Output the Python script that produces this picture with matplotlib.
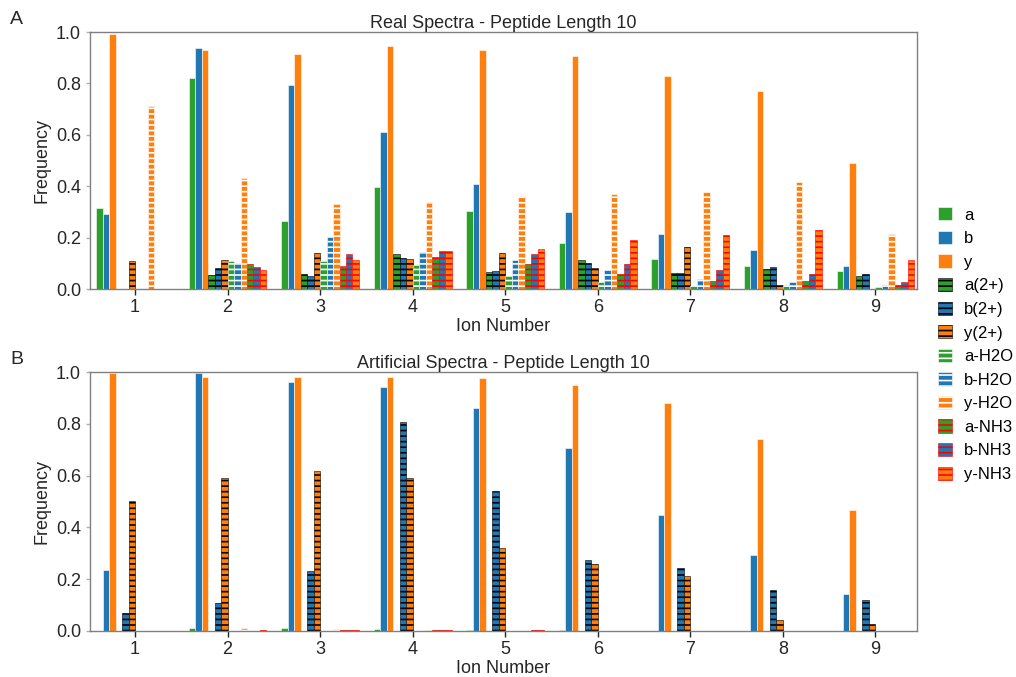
import numpy as np
import matplotlib
matplotlib.use("Agg")
import matplotlib.pyplot as plt

plt.rcParams['font.family'] = ['Liberation Sans', 'DejaVu Sans']
plt.rcParams['hatch.linewidth'] = 1.2

ions = [1, 2, 3, 4, 5, 6, 7, 8, 9]
labels = ['a', 'b', 'y', 'a(2+)', 'b(2+)', 'y(2+)',
          'a-H2O', 'b-H2O', 'y-H2O', 'a-NH3', 'b-NH3', 'y-NH3']

# Real spectra, one list per ion type (ion number 1..9)
real_a = [0.314, 0.822, 0.265, 0.396, 0.303, 0.179, 0.118, 0.088, 0.069]
real_b = [0.291, 0.939, 0.795, 0.610, 0.409, 0.300, 0.215, 0.153, 0.091]
real_y = [0.992, 0.931, 0.915, 0.945, 0.930, 0.905, 0.830, 0.772, 0.490]
real_a2 = [0.0, 0.053, 0.057, 0.136, 0.066, 0.113, 0.062, 0.078, 0.051]
real_b2 = [0.0, 0.082, 0.051, 0.121, 0.070, 0.101, 0.062, 0.086, 0.057]
real_y2 = [0.109, 0.113, 0.139, 0.117, 0.140, 0.082, 0.163, 0.014, 0.0]
real_ah2o = [0.0, 0.108, 0.108, 0.093, 0.049, 0.027, 0.013, 0.014, 0.008]
real_bh2o = [0.0, 0.100, 0.204, 0.144, 0.114, 0.073, 0.039, 0.027, 0.014]
real_yh2o = [0.713, 0.431, 0.331, 0.337, 0.362, 0.370, 0.377, 0.416, 0.214]
real_anh3 = [0.0, 0.096, 0.088, 0.126, 0.097, 0.060, 0.032, 0.031, 0.014]
real_bnh3 = [0.0, 0.084, 0.136, 0.148, 0.136, 0.096, 0.073, 0.057, 0.027]
real_ynh3 = [0.0, 0.074, 0.112, 0.148, 0.154, 0.192, 0.211, 0.228, 0.113]

# Artificial spectra
art_a = [0.0, 0.010, 0.010, 0.007, 0.005, 0.002, 0.0, 0.0, 0.0]
art_b = [0.234, 0.998, 0.963, 0.943, 0.862, 0.705, 0.448, 0.293, 0.142]
art_y = [0.995, 0.980, 0.982, 0.982, 0.976, 0.949, 0.879, 0.741, 0.467]
art_a2 = [0.0, 0.0, 0.0, 0.0, 0.0, 0.0, 0.0, 0.0, 0.0]
art_b2 = [0.068, 0.108, 0.233, 0.806, 0.542, 0.273, 0.243, 0.158, 0.121]
art_y2 = [0.500, 0.592, 0.618, 0.590, 0.319, 0.258, 0.214, 0.042, 0.027]
art_ah2o = [0.0, 0.0, 0.0, 0.0, 0.0, 0.0, 0.0, 0.0, 0.0]
art_bh2o = [0.0, 0.0, 0.0, 0.0, 0.0, 0.0, 0.0, 0.0, 0.0]
art_yh2o = [0.0, 0.012, 0.007, 0.005, 0.0, 0.0, 0.0, 0.0, 0.0]
art_anh3 = [0.0, 0.0, 0.002, 0.003, 0.0, 0.0, 0.0, 0.0, 0.0]
art_bnh3 = [0.0, 0.0, 0.002, 0.003, 0.003, 0.0, 0.0, 0.0, 0.0]
art_ynh3 = [0.0, 0.002, 0.002, 0.002, 0.003, 0.0, 0.0, 0.0, 0.0]

real = [real_a, real_b, real_y, real_a2, real_b2, real_y2,
        real_ah2o, real_bh2o, real_yh2o, real_anh3, real_bnh3, real_ynh3]
art = [art_a, art_b, art_y, art_a2, art_b2, art_y2,
       art_ah2o, art_bh2o, art_yh2o, art_anh3, art_bnh3, art_ynh3]

green, blue, orange = '#2ca02c', '#1f77b4', '#ff7f0e'
colors = [green, blue, orange] * 4
hatches = [None] * 3 + ['---'] * 9
edges = ['white'] * 3 + ['black'] * 3 + ['white'] * 3 + ['red'] * 3
width = 0.07
txt = '#262626'

fig = plt.figure(figsize=(10.16, 6.77), dpi=100)
axA = fig.add_axes([0.0886, 0.573, 0.814, 0.3797])
axB = fig.add_axes([0.0886, 0.068, 0.814, 0.3825])

x = np.array(ions, dtype=float)
for ax, data, title in [(axA, real, 'Real Spectra - Peptide Length 10'),
                        (axB, art, 'Artificial Spectra - Peptide Length 10')]:
    for i, vals in enumerate(data):
        off = (i - 5.5) * width
        ax.bar(x + off, vals, width, color=colors[i], hatch=hatches[i],
               edgecolor=edges[i], linewidth=0.4, label=labels[i])
    ax.set_xlim(0.514, 9.45)
    ax.set_ylim(0, 1.0)
    ax.set_xticks(ions)
    ax.set_yticks([0, 0.2, 0.4, 0.6, 0.8, 1.0])
    ax.set_yticklabels(['0.0', '0.2', '0.4', '0.6', '0.8', '1.0'])
    ax.set_title(title, fontsize=13, color=txt, pad=3)
    ax.set_xlabel('Ion Number', fontsize=13, color=txt, labelpad=1)
    ax.set_ylabel('Frequency', fontsize=13, color=txt)
    for s in ax.spines.values():
        s.set_color('#808080')
        s.set_linewidth(1.0)
    ax.tick_params(axis='x', labelsize=13, colors=txt, length=4, width=1)
    ax.tick_params(axis='y', labelsize=13, labelcolor=txt, color='#b0b0b0', length=3, width=1)

fig.text(0.01, 0.965, 'A', fontsize=14, color=txt)
fig.text(0.01, 0.463, 'B', fontsize=14, color=txt)

handles, labs = axA.get_legend_handles_labels()
fig.legend(handles, labs, loc='center left', bbox_to_anchor=(0.908, 0.491),
           frameon=False, fontsize=12, handlelength=0.85, handleheight=0.85,
           labelspacing=0.49, handletextpad=0.75)

fig.savefig('out.png', dpi=100)
